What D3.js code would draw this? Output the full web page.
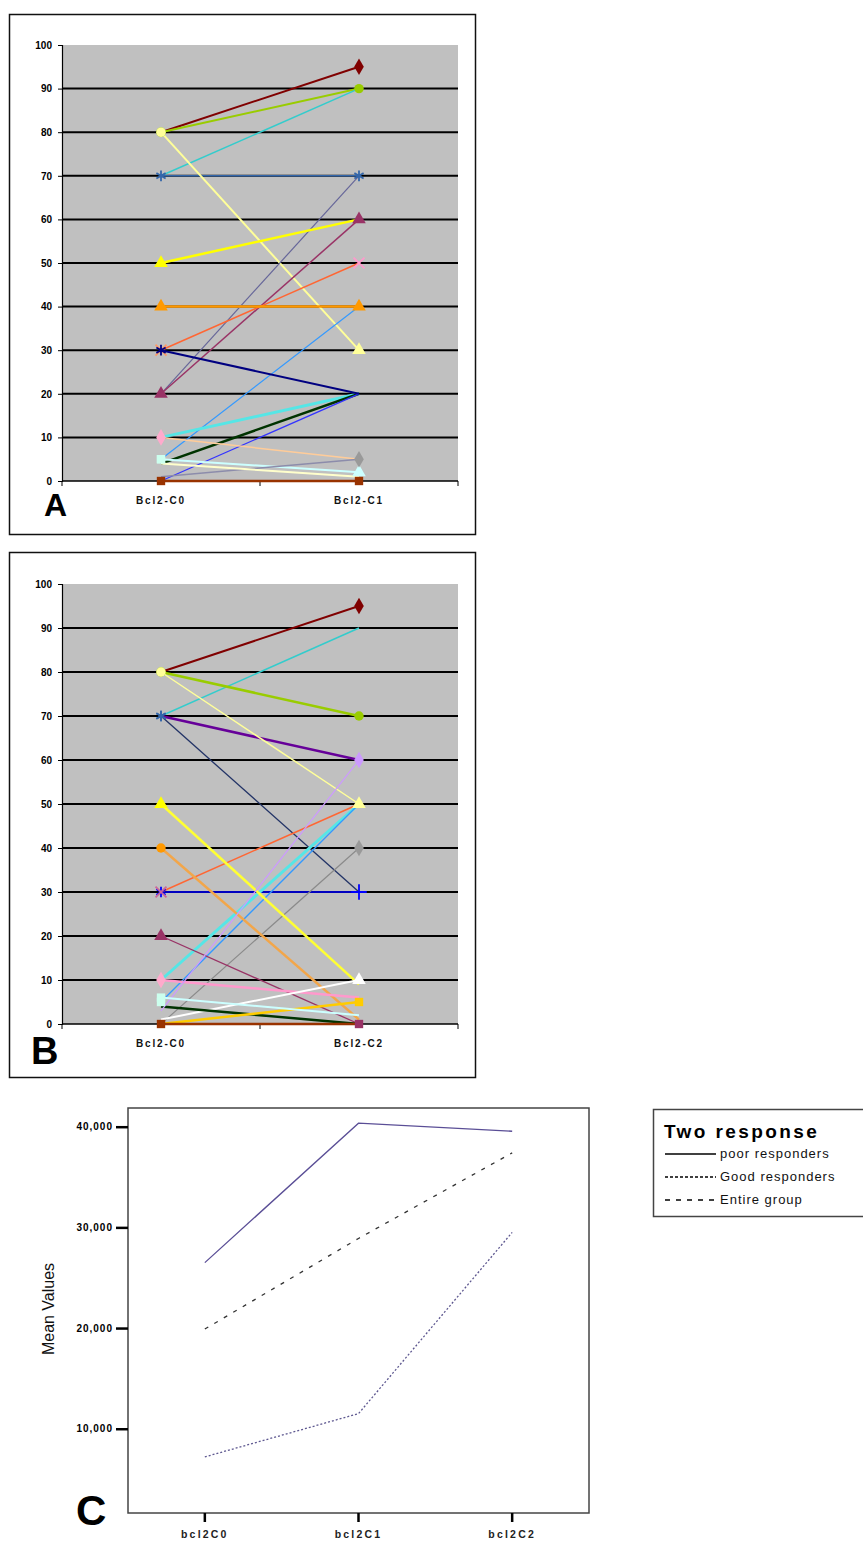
<!DOCTYPE html>
<html><head><meta charset="utf-8">
<script src="https://cdn.jsdelivr.net/npm/d3@7"></script>
<style>
body{margin:0;background:#fff;}
text{font-family:"Liberation Sans",Arial,sans-serif;}
</style></head>
<body>
<svg id="chart" width="863" height="1541"></svg>
<script>
// ---------- DATA ----------
const catsA = ["Bcl2-C0", "Bcl2-C1"];
const catsB = ["Bcl2-C0", "Bcl2-C2"];
const yTicksAB = [0,10,20,30,40,50,60,70,80,90,100];

// Panel A: value at C0 and at C1 for each patient
const aC0 = [80, 80, 70, 70, 80, 20, 20, 30, 40, 50, 5, 10, 4, 0, 10, 5, 1, 4, 30, 0];
const aC1 = [95, 90, 90, 70, 30, 70, 60, 50, 40, 60, 40, 20, 20, 20, 5, 2, 5, 1, 20, 0];

// Panel B: value at C0 and at C2 for each patient
const bC0 = [80, 70, 80, 70, 80, 70, 30, 30, 10, 5, 0, 50, 40, 20, 10, 1, 4, 0, 3, 6, 0];
const bC2 = [95, 90, 70, 60, 50, 30, 30, 50, 50, 50, 40, 9, 1, 0, 6, 10, 0, 5, 60, 2, 0];

// Panel C: mean values
const catsC = ["bcl2C0", "bcl2C1", "bcl2C2"];
const poorResp = [26500, 40350, 39550];
const goodResp = [7200, 11500, 29500];
const entireGroup = [19900, 28900, 37400];
const yTicksC = [10000, 20000, 30000, 40000];
const legendC = ["poor responders", "Good responders", "Entire group"];

// ---------- STYLES ----------
const aColor  = ["#800000","#99cc00","#33cccc","#3366aa","#ffff99","#666699","#993366","#ff6633","#ff9900","#ffff00","#3399ff","#55e6e6","#003300","#3333ff","#ffcc99","#ccffff","#8c8cab","#ffffcc","#000080","#993300"];
const aWidth  = [2,2,1.5,1.5,2,1.2,1.5,1.5,2.5,2.5,1.2,3,2.5,1.3,1.5,2,1.5,2,2,2.5];
const aMark0  = [null,"circle",null,"asterisk","circle",null,"triangle","times","triangle","triangle","square",null,null,null,"diamond","square",null,null,"asterisk","square"];
const aMark1  = ["diamond","circle",null,"asterisk","triangle",null,"triangle","times","triangle",null,null,null,null,null,null,"triangle","diamond",null,null,"square"];
const aMarkCol0 = ["#800000","#99cc00","#33cccc","#3366aa","#ffff99","#666699","#993366","#ff9966","#ff9900","#ffff00","#ccffee","#55e6e6","#003300","#3333ff","#ffaacc","#ccffee","#999999","#ffffcc","#000080","#993300"];
const aMarkCol1 = ["#800000","#99cc00","#33cccc","#3366aa","#ffff99","#666699","#993366","#ff99cc","#ff9900","#ffff00","#3399ff","#55e6e6","#003300","#3333ff","#ffcc99","#ccffff","#999999","#ffffcc","#000080","#993300"];

const bColor  = ["#800000","#33cccc","#99cc00","#660099","#ffff99","#223366","#0000ff","#ff6633","#55e6e6","#3399ff","#8a8a8a","#ffff33","#f2a64a","#993366","#ff99cc","#ffffff","#003300","#ffcc00","#cc99ff","#ccffff","#993300"];
const bWidth  = [2,1.5,2.5,2.5,1.5,1.3,1.5,1.5,3,1.3,1.2,2.5,2.5,1.3,2.5,2,2.5,2.5,1.2,2,2.5];
const bMark0  = [null,"asterisk","circle","asterisk","circle",null,"asterisk","times",null,"square",null,"triangle","circle","triangle","diamond",null,null,null,null,"square","square"];
const bMark2  = ["diamond",null,"circle","diamond","triangle",null,"plus",null,null,null,"diamond",null,null,"square",null,"triangle",null,"square",null,null,null];
const bMarkCol0 = ["#800000","#3366aa","#99cc00","#3366aa","#ffff99","#223366","#0000ff","#cc6699","#55e6e6","#ccffee","#8a8a8a","#ffff00","#ff9900","#993366","#ffaacc","#ffffff","#003300","#ffcc00","#cc99ff","#ccffee","#993300"];
const bMarkCol2 = ["#800000","#33cccc","#99cc00","#cc99ff","#ffff99","#223366","#0000ff","#ff6633","#55e6e6","#3399ff","#999999","#ffff33","#f2a64a","#993366","#ff99cc","#ffffff","#003300","#ffcc00","#cc99ff","#ccffff","#993300"];

// ---------- DRAW ----------
const svg = d3.select("#chart");
svg.append("rect").attr("width",863).attr("height",1541).attr("fill","#fff");

const symMap = {
  circle: d3.symbolCircle, diamond: d3.symbolDiamond, square: d3.symbolSquare,
  triangle: d3.symbolTriangle, asterisk: d3.symbolAsterisk || d3.symbolCross,
  times: d3.symbolTimes || d3.symbolCross, plus: d3.symbolPlus || d3.symbolCross
};
const strokeSyms = new Set(["asterisk","times","plus"]);

function drawMarker(g, type, x, y, col) {
  if (!type) return;
  const size = type === "diamond" ? 80 : (type === "triangle" ? 80 : 70);
  const p = g.append("path")
    .attr("d", d3.symbol(symMap[type], strokeSyms.has(type) ? 80 : size)())
    .attr("transform", `translate(${x},${y})`);
  if (strokeSyms.has(type)) p.attr("fill","none").attr("stroke",col).attr("stroke-width",1.8);
  else p.attr("fill",col);
}

function excelPanel(cfg) {
  const {frame, plot, cats, v0, v1, colors, widths, m0, m1, mc0, mc1, letter, letterPos, letterSize} = cfg;
  const g = svg.append("g");
  g.append("rect").attr("x",frame[0]).attr("y",frame[1]).attr("width",frame[2]).attr("height",frame[3])
    .attr("fill","#fff").attr("stroke","#111").attr("stroke-width",1.5);
  const x = d3.scalePoint().domain(cats).range([plot.x0, plot.x1]).padding(0.5);
  const y = d3.scaleLinear().domain([0,100]).range([plot.yb, plot.yt]);
  g.append("rect").attr("x",plot.x0).attr("y",plot.yt).attr("width",plot.x1-plot.x0).attr("height",plot.yb-plot.yt)
    .attr("fill","#c0c0c0");
  // gridlines
  g.selectAll(".grid").data(yTicksAB.filter(d => d>0 && d<100)).join("line")
    .attr("x1",plot.x0).attr("x2",plot.x1).attr("y1",d=>y(d)).attr("y2",d=>y(d))
    .attr("stroke","#000").attr("stroke-width",2);
  // y axis
  const ya = g.append("g").attr("transform",`translate(${plot.x0},0)`)
    .call(d3.axisLeft(y).tickValues(yTicksAB).tickSize(4).tickPadding(6));
  ya.select(".domain").attr("stroke","#000").attr("stroke-width",1.2);
  ya.selectAll("text").attr("font-size",10).attr("font-weight","bold").attr("fill","#000");
  // x axis
  const band = (plot.x1 - plot.x0) / cats.length;
  const xa = g.append("g").attr("transform",`translate(0,${plot.yb})`);
  xa.append("line").attr("x1",plot.x0).attr("x2",plot.x1).attr("stroke","#000").attr("stroke-width",1.5);
  xa.selectAll(".xt").data(d3.range(cats.length+1)).join("line")
    .attr("x1",d=>plot.x0+d*band).attr("x2",d=>plot.x0+d*band).attr("y1",0).attr("y2",5)
    .attr("stroke","#000").attr("stroke-width",1);
  xa.selectAll(".xl").data(cats).join("text")
    .attr("x",d=>x(d)).attr("y",23).attr("text-anchor","middle")
    .attr("font-size",10).attr("font-weight","bold").attr("letter-spacing",1.8).attr("fill","#111").text(d=>d);
  // series lines
  const line = d3.line().x(d=>x(d[0])).y(d=>y(d[1]));
  v0.forEach((val,i) => {
    g.append("path").attr("d", line([[cats[0],val],[cats[1],v1[i]]]))
      .attr("fill","none").attr("stroke",colors[i]).attr("stroke-width",widths[i]);
  });
  v0.forEach((val,i) => {
    drawMarker(g, m0[i], x(cats[0]), y(val), mc0[i]);
    drawMarker(g, m1[i], x(cats[1]), y(v1[i]), mc1[i]);
  });
  g.append("text").attr("x",letterPos[0]).attr("y",letterPos[1]).attr("font-size",letterSize)
    .attr("font-weight","bold").attr("fill","#000").text(letter);
}

excelPanel({frame:[9.5,14.5,466,520], plot:{x0:62,x1:458,yt:45,yb:481}, cats:catsA, v0:aC0, v1:aC1,
  colors:aColor, widths:aWidth, m0:aMark0, m1:aMark1, mc0:aMarkCol0, mc1:aMarkCol1,
  letter:"A", letterPos:[44,516], letterSize:32});
excelPanel({frame:[9.5,552.5,466,525], plot:{x0:62,x1:458,yt:584,yb:1024}, cats:catsB, v0:bC0, v1:bC2,
  colors:bColor, widths:bWidth, m0:bMark0, m1:bMark2, mc0:bMarkCol0, mc1:bMarkCol2,
  letter:"B", letterPos:[31,1064], letterSize:38});

// ---------- Panel C ----------
const gc = svg.append("g");
const fx0 = 128, fx1 = 589, fy0 = 1108, fy1 = 1513;
const xc = d3.scalePoint().domain(catsC).range([fx0, fx1]).padding(0.5);
const yc = d3.scaleLinear().domain([0,40000]).range([1529.4,1126.7]);
gc.append("rect").attr("x",fx0).attr("y",fy0).attr("width",fx1-fx0).attr("height",fy1-fy0)
  .attr("fill","#fff").attr("stroke","#444").attr("stroke-width",1.5);
const yac = gc.append("g").attr("transform",`translate(${fx0},0)`)
  .call(d3.axisLeft(yc).tickValues(yTicksC).tickSize(12).tickPadding(3));
yac.select(".domain").remove();
yac.selectAll("line").attr("stroke","#000").attr("stroke-width",2.5);
yac.selectAll("text").attr("font-size",10).attr("font-weight","bold").attr("letter-spacing",1).attr("fill","#000")
  .text(d => d3.format(",")(d));
const xac = gc.append("g").attr("transform",`translate(0,${fy1})`);
xac.selectAll("line").data(catsC).join("line").attr("x1",d=>xc(d)).attr("x2",d=>xc(d)).attr("y1",0).attr("y2",9)
  .attr("stroke","#000").attr("stroke-width",2.5);
xac.selectAll("text").data(catsC).join("text").attr("x",d=>xc(d)).attr("y",25).attr("text-anchor","middle")
  .attr("font-size",10.5).attr("font-weight","bold").attr("letter-spacing",2.2).attr("fill","#222").text(d=>d);
gc.append("text").attr("transform","translate(54,1309) rotate(-90)").attr("text-anchor","middle")
  .attr("font-size",16).attr("fill","#111").text("Mean Values");
gc.append("text").attr("x",76).attr("y",1525).attr("font-size",42).attr("font-weight","bold").attr("fill","#000").text("C");

const lineC = d3.line().x((d,i)=>xc(catsC[i])).y(d=>yc(d));
const cSeries = [poorResp, goodResp, entireGroup];
const cStroke = ["#5a4e96","#5e5890","#333"];
const cDash = [null,"2,2","4,7"];
cSeries.forEach((s,i)=>{
  const p = gc.append("path").attr("d",lineC(s)).attr("fill","none").attr("stroke",cStroke[i]).attr("stroke-width",1.3);
  if (cDash[i]) p.attr("stroke-dasharray",cDash[i]);
});

// legend
const lg = svg.append("g");
lg.append("rect").attr("x",653.5).attr("y",1109.5).attr("width",230).attr("height",107)
  .attr("fill","#fff").attr("stroke","#444").attr("stroke-width",1.5);
lg.append("text").attr("x",664).attr("y",1138).attr("font-size",19).attr("font-weight","bold")
  .attr("letter-spacing",2.4).attr("fill","#000").text("Two response");
const legY = [1154, 1177, 1200];
const legDash = [null, "3,2", "5,6"];
legendC.forEach((t,i)=>{
  const l = lg.append("line").attr("x1",665).attr("x2",716).attr("y1",legY[i]).attr("y2",legY[i])
    .attr("stroke","#000").attr("stroke-width",1.3);
  if (legDash[i]) l.attr("stroke-dasharray",legDash[i]);
  lg.append("text").attr("x",720).attr("y",legY[i]+4).attr("font-size",13).attr("letter-spacing",1)
    .attr("fill","#111").text(t);
});
</script>
</body></html>
